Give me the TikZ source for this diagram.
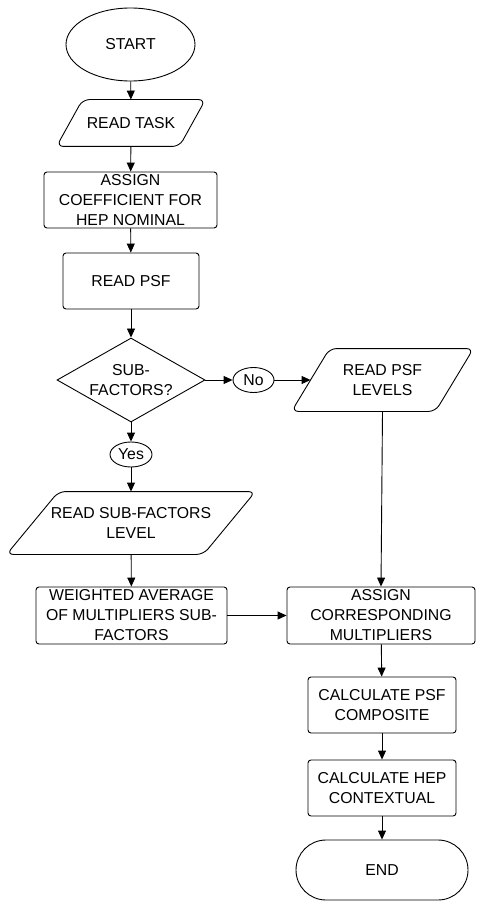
\documentclass[tikz,border=0pt]{standalone}
\usepackage{fontspec}
\setmainfont{Liberation Sans}
\usepackage{tikz}
\usetikzlibrary{shapes.geometric}
\usetikzlibrary{shapes.misc}
\usetikzlibrary{arrows.meta}
\tikzset{
    base/.style={draw, line width=0.9pt, inner sep=0pt, align=center, font=\fontsize{15.8}{20}\selectfont},
    term/.style={base, ellipse},
    proc/.style={base, rectangle, rounded corners=3pt},
    io/.style={base, draw=none, rectangle},
    dec/.style={base, diamond, aspect=1.76},
    lbl/.style={base, ellipse},
    flow/.style={line width=0.9pt, -{Triangle[length=9pt,width=8pt]}}
}
\begin{document}
\begin{tikzpicture}[x=1pt, y=-1pt]
\useasboundingbox (0,0) rectangle (476,901);
\node[term, minimum width=129pt, minimum height=73pt] (start) at (130.5,44.5) {START};
\node[io, minimum width=148pt, minimum height=46pt] (task) at (131,123) {READ TASK};
\node[proc, minimum width=173pt, minimum height=56pt] (coef) at (130.5,200) {ASSIGN\\COEFFICIENT FOR\\HEP NOMINAL};
\node[proc, minimum width=136pt, minimum height=56pt] (psf) at (131,281) {READ PSF};
\node[dec, minimum width=148pt, minimum height=84pt] (sub) at (131,380) {SUB-\\FACTORS?};
\node[lbl, minimum width=41pt, minimum height=25pt] (no) at (253.5,380) {No};
\node[io, minimum width=181pt, minimum height=62pt] (levels) at (382.5,380) {READ PSF\\LEVELS};
\node[lbl, minimum width=42pt, minimum height=25pt] (yes) at (131,454.5) {Yes};
\node[io, minimum width=248pt, minimum height=62pt] (sublevel) at (131,523) {READ SUB-FACTORS\\LEVEL};
\node[proc, minimum width=191pt, minimum height=57pt] (weighted) at (131.5,615.5) {WEIGHTED AVERAGE\\OF MULTIPLIERS SUB-\\FACTORS};
\node[proc, minimum width=188pt, minimum height=57pt] (assign) at (381,615.5) {ASSIGN\\CORRESPONDING\\MULTIPLIERS};
\node[proc, minimum width=148pt, minimum height=56pt] (composite) at (382,705) {CALCULATE PSF\\COMPOSITE};
\node[proc, minimum width=148pt, minimum height=56pt] (contextual) at (382,788) {CALCULATE HEP\\CONTEXTUAL};
\node[base, rounded rectangle, minimum width=172pt, minimum height=60pt] (finish) at (382,870) {END};
% input/output outlines
\foreach \n/\s in {task/26, levels/38, sublevel/52}{
    \draw[line width=0.9pt, rounded corners=7pt] (\n.south west) -- ([xshift=\s pt]\n.north west) -- (\n.north east) -- ([xshift=-\s pt]\n.south east) -- cycle;
}
\coordinate (levelsin) at ([xshift=19pt]levels.west);
% main line
\draw[flow] (start) -- (task);
\draw[flow] (task) -- (coef);
\draw[flow] (coef) -- (psf);
\draw[flow] (psf) -- (sub);
% branches
\draw[flow] (sub.east) -- (no.west);
\draw[flow] (no.east) -- (levelsin);
\draw[flow] (sub.south) -- (yes.north);
\draw[flow] (yes) -- (sublevel);
\draw[flow] (sublevel) -- (weighted);
\draw[flow] (levels.south) -- (assign.north);
\draw[flow] (weighted.east) -- (assign.west);
\draw[flow] (assign) -- (composite);
\draw[flow] (composite) -- (contextual);
\draw[flow] (contextual) -- (finish);
\end{tikzpicture}
\end{document}
